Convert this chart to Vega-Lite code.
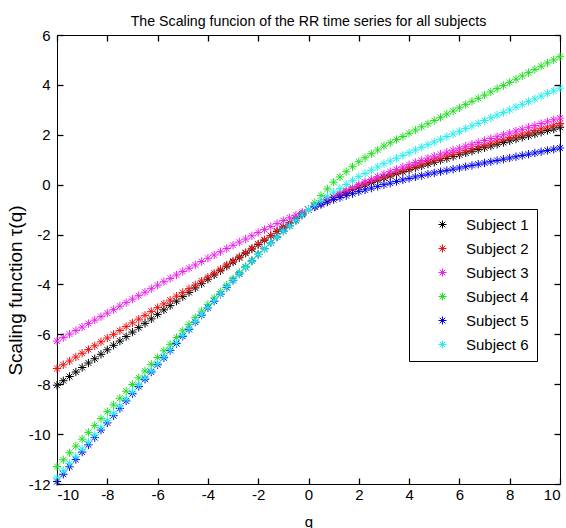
{
"$schema":"https://vega.github.io/schema/vega-lite/v6.json",
"width":503,"height":449,
"autosize":{"type":"none"},
"padding":{"left":57,"top":35,"right":6,"bottom":44},
"background":"white",
"title":{"text":"The Scaling funcion of the RR time series for all subjects","fontSize":14.2,"fontWeight":"normal","font":"Liberation Sans","color":"black","offset":-1},
"data":{"values":[
{"q":-10,"1":-8.04,"2":-7.37,"3":-6.27,"4":-11.30,"5":-11.90,"6":-11.75},
{"q":-9.75,"1":-7.86,"2":-7.22,"3":-6.13,"4":-11.03,"5":-11.61,"6":-11.46},
{"q":-9.5,"1":-7.69,"2":-7.07,"3":-5.99,"4":-10.75,"5":-11.31,"6":-11.18},
{"q":-9.25,"1":-7.51,"2":-6.91,"3":-5.85,"4":-10.48,"5":-11.02,"6":-10.89},
{"q":-9,"1":-7.33,"2":-6.76,"3":-5.71,"4":-10.20,"5":-10.72,"6":-10.60},
{"q":-8.75,"1":-7.15,"2":-6.61,"3":-5.57,"4":-9.93,"5":-10.43,"6":-10.31},
{"q":-8.5,"1":-6.98,"2":-6.46,"3":-5.43,"4":-9.65,"5":-10.14,"6":-10.03},
{"q":-8.25,"1":-6.80,"2":-6.30,"3":-5.29,"4":-9.38,"5":-9.84,"6":-9.74},
{"q":-8,"1":-6.62,"2":-6.15,"3":-5.15,"4":-9.10,"5":-9.55,"6":-9.45},
{"q":-7.75,"1":-6.44,"2":-6.00,"3":-5.01,"4":-8.83,"5":-9.26,"6":-9.17},
{"q":-7.5,"1":-6.27,"2":-5.85,"3":-4.87,"4":-8.56,"5":-8.97,"6":-8.88},
{"q":-7.25,"1":-6.09,"2":-5.69,"3":-4.73,"4":-8.28,"5":-8.67,"6":-8.60},
{"q":-7,"1":-5.91,"2":-5.54,"3":-4.59,"4":-8.01,"5":-8.38,"6":-8.31},
{"q":-6.75,"1":-5.73,"2":-5.39,"3":-4.45,"4":-7.74,"5":-8.09,"6":-8.03},
{"q":-6.5,"1":-5.56,"2":-5.24,"3":-4.31,"4":-7.47,"5":-7.80,"6":-7.75},
{"q":-6.25,"1":-5.38,"2":-5.08,"3":-4.17,"4":-7.20,"5":-7.51,"6":-7.46},
{"q":-6,"1":-5.20,"2":-4.93,"3":-4.03,"4":-6.93,"5":-7.22,"6":-7.18},
{"q":-5.75,"1":-5.02,"2":-4.78,"3":-3.89,"4":-6.66,"5":-6.94,"6":-6.90},
{"q":-5.5,"1":-4.85,"2":-4.63,"3":-3.76,"4":-6.40,"5":-6.65,"6":-6.62},
{"q":-5.25,"1":-4.67,"2":-4.47,"3":-3.62,"4":-6.13,"5":-6.37,"6":-6.33},
{"q":-5,"1":-4.49,"2":-4.32,"3":-3.48,"4":-5.86,"5":-6.08,"6":-6.05},
{"q":-4.75,"1":-4.32,"2":-4.17,"3":-3.35,"4":-5.60,"5":-5.80,"6":-5.77},
{"q":-4.5,"1":-4.14,"2":-4.02,"3":-3.22,"4":-5.33,"5":-5.51,"6":-5.49},
{"q":-4.25,"1":-3.97,"2":-3.86,"3":-3.08,"4":-5.07,"5":-5.23,"6":-5.20},
{"q":-4,"1":-3.79,"2":-3.71,"3":-2.95,"4":-4.80,"5":-4.94,"6":-4.92},
{"q":-3.75,"1":-3.62,"2":-3.55,"3":-2.82,"4":-4.54,"5":-4.67,"6":-4.65},
{"q":-3.5,"1":-3.45,"2":-3.39,"3":-2.69,"4":-4.29,"5":-4.39,"6":-4.38},
{"q":-3.25,"1":-3.27,"2":-3.22,"3":-2.56,"4":-4.03,"5":-4.12,"6":-4.10},
{"q":-3,"1":-3.10,"2":-3.06,"3":-2.43,"4":-3.77,"5":-3.84,"6":-3.83},
{"q":-2.75,"1":-2.93,"2":-2.89,"3":-2.30,"4":-3.52,"5":-3.58,"6":-3.57},
{"q":-2.5,"1":-2.75,"2":-2.72,"3":-2.18,"4":-3.28,"5":-3.32,"6":-3.32},
{"q":-2.25,"1":-2.58,"2":-2.55,"3":-2.05,"4":-3.03,"5":-3.06,"6":-3.06},
{"q":-2,"1":-2.40,"2":-2.38,"3":-1.92,"4":-2.78,"5":-2.80,"6":-2.80},
{"q":-1.75,"1":-2.23,"2":-2.21,"3":-1.80,"4":-2.55,"5":-2.57,"6":-2.57},
{"q":-1.5,"1":-2.05,"2":-2.04,"3":-1.68,"4":-2.32,"5":-2.33,"6":-2.33},
{"q":-1.25,"1":-1.88,"2":-1.86,"3":-1.56,"4":-2.09,"5":-2.10,"6":-2.10},
{"q":-1,"1":-1.70,"2":-1.69,"3":-1.44,"4":-1.86,"5":-1.86,"6":-1.86},
{"q":-0.75,"1":-1.53,"2":-1.52,"3":-1.33,"4":-1.65,"5":-1.65,"6":-1.65},
{"q":-0.5,"1":-1.35,"2":-1.35,"3":-1.22,"4":-1.43,"5":-1.43,"6":-1.43},
{"q":-0.25,"1":-1.18,"2":-1.17,"3":-1.11,"4":-1.22,"5":-1.22,"6":-1.22},
{"q":0,"1":-1.00,"2":-1.00,"3":-1.00,"4":-1.00,"5":-1.00,"6":-1.00},
{"q":0.25,"1":-0.87,"2":-0.87,"3":-0.86,"4":-0.72,"5":-0.90,"6":-0.82},
{"q":0.5,"1":-0.75,"2":-0.74,"3":-0.73,"4":-0.44,"5":-0.80,"6":-0.65},
{"q":0.75,"1":-0.63,"2":-0.62,"3":-0.60,"4":-0.17,"5":-0.70,"6":-0.47},
{"q":1,"1":-0.52,"2":-0.50,"3":-0.47,"4":0.10,"5":-0.60,"6":-0.30},
{"q":1.25,"1":-0.41,"2":-0.39,"3":-0.35,"4":0.31,"5":-0.52,"6":-0.15},
{"q":1.5,"1":-0.31,"2":-0.28,"3":-0.23,"4":0.52,"5":-0.44,"6":0.01},
{"q":1.75,"1":-0.20,"2":-0.17,"3":-0.12,"4":0.72,"5":-0.36,"6":0.16},
{"q":2,"1":-0.10,"2":-0.06,"3":0.00,"4":0.92,"5":-0.28,"6":0.32},
{"q":2.25,"1":-0.01,"2":0.04,"3":0.11,"4":1.08,"5":-0.21,"6":0.45},
{"q":2.5,"1":0.09,"2":0.13,"3":0.21,"4":1.24,"5":-0.14,"6":0.58},
{"q":2.75,"1":0.18,"2":0.23,"3":0.32,"4":1.39,"5":-0.07,"6":0.71},
{"q":3,"1":0.27,"2":0.32,"3":0.42,"4":1.55,"5":0.00,"6":0.84},
{"q":3.25,"1":0.35,"2":0.41,"3":0.52,"4":1.68,"5":0.06,"6":0.95},
{"q":3.5,"1":0.44,"2":0.50,"3":0.61,"4":1.81,"5":0.13,"6":1.06},
{"q":3.75,"1":0.52,"2":0.58,"3":0.71,"4":1.93,"5":0.19,"6":1.17},
{"q":4,"1":0.60,"2":0.67,"3":0.80,"4":2.06,"5":0.25,"6":1.28},
{"q":4.25,"1":0.68,"2":0.75,"3":0.89,"4":2.19,"5":0.31,"6":1.39},
{"q":4.5,"1":0.75,"2":0.83,"3":0.97,"4":2.32,"5":0.36,"6":1.50},
{"q":4.75,"1":0.83,"2":0.91,"3":1.06,"4":2.44,"5":0.42,"6":1.60},
{"q":5,"1":0.90,"2":0.99,"3":1.14,"4":2.57,"5":0.47,"6":1.71},
{"q":5.25,"1":0.98,"2":1.07,"3":1.22,"4":2.70,"5":0.52,"6":1.82},
{"q":5.5,"1":1.05,"2":1.15,"3":1.30,"4":2.83,"5":0.57,"6":1.93},
{"q":5.75,"1":1.13,"2":1.22,"3":1.38,"4":2.95,"5":0.62,"6":2.03},
{"q":6,"1":1.20,"2":1.30,"3":1.46,"4":3.08,"5":0.67,"6":2.14},
{"q":6.25,"1":1.27,"2":1.38,"3":1.54,"4":3.21,"5":0.72,"6":2.25},
{"q":6.5,"1":1.34,"2":1.45,"3":1.62,"4":3.34,"5":0.77,"6":2.36},
{"q":6.75,"1":1.41,"2":1.53,"3":1.69,"4":3.46,"5":0.82,"6":2.46},
{"q":7,"1":1.48,"2":1.60,"3":1.77,"4":3.59,"5":0.87,"6":2.57},
{"q":7.25,"1":1.55,"2":1.67,"3":1.85,"4":3.72,"5":0.92,"6":2.68},
{"q":7.5,"1":1.62,"2":1.75,"3":1.92,"4":3.85,"5":0.97,"6":2.79},
{"q":7.75,"1":1.69,"2":1.82,"3":2.00,"4":3.97,"5":1.02,"6":2.89},
{"q":8,"1":1.76,"2":1.89,"3":2.07,"4":4.10,"5":1.07,"6":3.00},
{"q":8.25,"1":1.83,"2":1.96,"3":2.15,"4":4.23,"5":1.12,"6":3.11},
{"q":8.5,"1":1.90,"2":2.03,"3":2.22,"4":4.36,"5":1.17,"6":3.22},
{"q":8.75,"1":1.96,"2":2.10,"3":2.30,"4":4.49,"5":1.22,"6":3.33},
{"q":9,"1":2.03,"2":2.17,"3":2.37,"4":4.62,"5":1.27,"6":3.44},
{"q":9.25,"1":2.10,"2":2.24,"3":2.45,"4":4.75,"5":1.32,"6":3.55},
{"q":9.5,"1":2.17,"2":2.31,"3":2.52,"4":4.88,"5":1.37,"6":3.66},
{"q":9.75,"1":2.23,"2":2.38,"3":2.60,"4":5.00,"5":1.42,"6":3.76},
{"q":10,"1":2.30,"2":2.45,"3":2.67,"4":5.13,"5":1.47,"6":3.87}
]},
"transform":[{"fold":["1","2","3","4","5","6"],"as":["subject","tau"]}],
"layer":[
{"mark":{"type":"point","shape":"M-1,0L1,0M0,-1L0,1M-0.7,-0.7L0.7,0.7M-0.7,0.7L0.7,-0.7","filled":false,"size":70,"strokeWidth":1,"opacity":1},
 "encoding":{
  "x":{"field":"q","type":"quantitative","scale":{"domain":[-10,10],"nice":false,"zero":false},
       "axis":{"orient":"bottom","zindex":1,"tickColor":"black","tickWidth":1.3,"values":[-10,-8,-6,-4,-2,0,2,4,6,8,10],"labelExpr":"'' + datum.value","title":"q","tickSize":-6,"labelPadding":9,"titleY":37,"titleBaseline":"middle"}},
  "y":{"field":"tau","type":"quantitative","scale":{"domain":[-12,6],"nice":false,"zero":false},
       "axis":{"orient":"left","zindex":1,"tickColor":"black","tickWidth":1.3,"values":[-12,-10,-8,-6,-4,-2,0,2,4,6],"labelExpr":"'' + datum.value","title":"Scaling function τ(q)","tickSize":-6,"labelPadding":13,"titleX":-42,"titleY":255,"titleAngle":270,"titleAlign":"center","titleBaseline":"middle","titleFontSize":19}},
  "color":{"field":"subject","type":"nominal","scale":{"domain":["1","2","3","4","5","6"],"range":["#000000","#f01010","#f020f0","#20e020","#0000f0","#20f0f0"]},
       "legend":{"orient":"none","legendX":352,"legendY":174,"title":null,"labelExpr":"'Subject ' + datum.label","strokeColor":"black","fillColor":"white","padding":8,"symbolOffset":18,"labelOffset":16,"rowPadding":8,"labelFontSize":15,"labelFont":"Liberation Sans","labelColor":"black","symbolSize":64,"symbolType":"M-1,0L1,0M0,-1L0,1M-0.7,-0.7L0.7,0.7M-0.7,0.7L0.7,-0.7","symbolStrokeWidth":1,"symbolFillColor":"transparent","cornerRadius":0}},
  "order":{"field":"subject","sort":"ascending"}
 }},
{"mark":{"type":"point","opacity":0},
 "encoding":{
  "x":{"field":"q","type":"quantitative","scale":{"domain":[-10,10],"nice":false,"zero":false},
       "axis":{"orient":"top","zindex":1,"tickColor":"black","tickWidth":1.3,"values":[-10,-8,-6,-4,-2,0,2,4,6,8,10],"title":null,"labels":false,"tickSize":-6}},
  "y":{"field":"tau","type":"quantitative","scale":{"domain":[-12,6],"nice":false,"zero":false},
       "axis":{"orient":"right","zindex":1,"tickColor":"black","tickWidth":1.3,"values":[-12,-10,-8,-6,-4,-2,0,2,4,6],"title":null,"labels":false,"tickSize":-6}}
 }}
],
"resolve":{"axis":{"x":"independent","y":"independent"}},
"config":{
 "view":{"stroke":"black","strokeWidth":1},
 "axis":{"grid":false,"domain":false,"ticks":true,"labelFont":"Liberation Sans","labelFontSize":15,"labelColor":"black","titleFont":"Liberation Sans","titleFontSize":15,"titleFontWeight":"normal","titleColor":"black"}
}
}
